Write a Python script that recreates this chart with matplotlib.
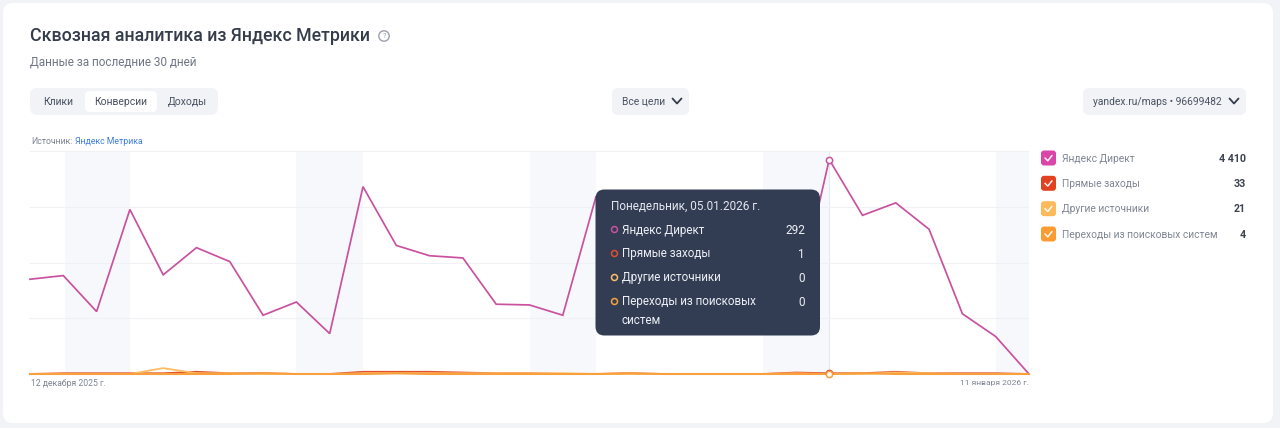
import matplotlib
matplotlib.use("Agg")
import matplotlib.pyplot as plt
from matplotlib.patches import FancyBboxPatch, Circle

plt.rcParams['font.family'] = ['Roboto', 'Noto Sans', 'DejaVu Sans']

# ---- data ----
days = list(range(31))
direct = [129, 134, 85, 224, 135, 172, 153, 80, 98, 55, 255, 175, 161, 158, 95, 94, 80, 242,
          200, 150, 130, 120, 121, 93, 292, 216, 233, 197, 82, 51, 0]
direct_in = [0, 1, 1, 1, 1, 3, 1, 1, 0, 0, 3, 3, 3, 2, 1, 1, 0, 0,
             1, 0, 0, 0, 0, 2, 1, 1, 3, 1, 1, 1, 0]
other = [0, 0, 0, 0, 8, 1, 1, 0, 0, 0, 1, 1, 1, 1, 1, 1, 1, 0,
         0, 0, 0, 0, 0, 1, 0, 0, 2, 1, 0, 0, 0]
search = [0, 0, 0, 0, 0, 0, 0, 1, 0, 0, 0, 1, 0, 0, 0, 0, 0, 0,
          1, 0, 0, 0, 0, 0, 0, 1, 0, 0, 0, 0, 0]
weekends = [(1.05, 3), (8, 10), (15, 17), (22, 24), (29, 30)]
hover_day = 24
grid_values = [0, 75.9, 151.8, 227.7, 303.6]

series_names = ["Яндекс Директ", "Прямые заходы", "Другие источники", "Переходы из поисковых систем"]
series_totals = ["4 410", "33", "21", "4"]
tooltip_values = ["292", "1", "0", "0"]
tabs = ["Клики", "Конверсии", "Доходы"]

LINE = ["#c9529f", "#e0502f", "#fdbd62", "#f9a03c"]
LINE_W = [1.25, 1.3, 1.3, 1.5]
BOX = ["#d946a8", "#e2421f", "#fdb95a", "#fb9c33"]
INK = "#353d4b"
GREY = "#7d8593"

W, H = 1280, 428
fig = plt.figure(figsize=(W / 100, H / 100), dpi=100, facecolor="#f1f3f7")


def px_axes(z):
    a = fig.add_axes([0, 0, 1, 1], zorder=z)
    a.set_xlim(0, W)
    a.set_ylim(H, 0)
    a.axis("off")
    a.patch.set_alpha(0)
    return a


def rrect(a, x0, y0, x1, y1, r, fc, z=1, ec="none"):
    a.add_patch(FancyBboxPatch((x0 + r, y0 + r), x1 - x0 - 2 * r, y1 - y0 - 2 * r,
                               boxstyle=f"round,pad={r},rounding_size={r}",
                               fc=fc, ec=ec, lw=0, zorder=z))


def txt(a, x, y, s, px, color=INK, ha="left", weight="normal", z=5):
    return a.text(x, y, s, fontsize=px * 0.72, color=color, ha=ha, va="center",
                  fontweight=weight, zorder=z)


def chevron(a, cx, cy, color=INK):
    a.plot([cx - 4.5, cx, cx + 4.5], [cy - 2.5, cy + 2.5, cy - 2.5], color=color, lw=1.3,
           solid_capstyle="round", solid_joinstyle="round")


bg = px_axes(0)
rrect(bg, 3, 3, 1273, 423, 10, "white")

# header
txt(bg, 30, 35.5, "Сквозная аналитика из Яндекс Метрики", 17.8, weight="medium")
bg.add_patch(Circle((384, 36), 5.2, fc="none", ec="#9aa1ad", lw=1))
txt(bg, 384, 36, "?", 7, color="#9aa1ad", ha="center")
txt(bg, 30, 61.5, "Данные за последние 30 дней", 11.7, color="#6f7684")

# tabs
rrect(bg, 30, 88, 218, 115, 7, "#f1f3f7")
rrect(bg, 85, 91, 157, 112, 5, "white", z=2)
for x, s in zip([43, 94, 168], tabs):
    txt(bg, x, 101.5, s, 10.4, color="#4a5261")

# selects
rrect(bg, 612, 88, 689, 115, 6, "#f1f3f7")
txt(bg, 622, 101.5, "Все цели", 10.3, color="#4a5261")
chevron(bg, 677, 101)
rrect(bg, 1083, 88, 1246, 115, 6, "#f1f3f7")
txt(bg, 1093, 101.5, "yandex.ru/maps • 96699482", 10.2, color="#4a5261")
chevron(bg, 1234, 101)

# source
txt(bg, 31, 141.5, "Источник:", 8.8, color=GREY)
txt(bg, 75, 141.5, "Яндекс Метрика", 8.8, color="#3f7fe0")

# chart
ax = fig.add_axes([30 / W, 1 - 374 / H, (1029 - 30) / W, (374 - 151) / H], zorder=1)
ax.patch.set_alpha(0)
ax.set_xlim(days[0], days[-1])
ax.set_ylim(0, grid_values[-1])
for s in ax.spines.values():
    s.set_visible(False)
ax.set_xticks([])
ax.set_yticks(grid_values)
ax.tick_params(left=False, labelleft=False)
ax.grid(axis="y", color="#eff1f5", lw=0.8, zorder=1)
for a0, a1 in weekends:
    ax.axvspan(a0, a1, fc="#f6f8fb", ec="none", zorder=0)
ax.axvline(hover_day, color="#e6e9ef", lw=0.8, zorder=1.5)
for i, vals in enumerate([direct, direct_in, other, search]):
    ax.plot(days, vals, color=LINE[i], lw=LINE_W[i], zorder=3 + i, clip_on=False,
            solid_joinstyle="miter")
ax.plot([hover_day], [direct[hover_day]], "o", ms=4.5, mfc="white", mec=LINE[0], mew=1.1,
        zorder=8, clip_on=False)
ax.plot([hover_day], [direct_in[hover_day]], "o", ms=4.5, mfc="white", mec=LINE[1], mew=1.1,
        zorder=8, clip_on=False)
ax.plot([hover_day], [search[hover_day]], "o", ms=4.5, mfc="white", mec=LINE[3], mew=1.1,
        zorder=9, clip_on=False)

top = px_axes(2)
txt(top, 31, 383.5, "12 декабря 2025 г.", 8.7, color=GREY)
txt(top, 1029, 383.5, "11 января 2026 г.", 8.5, color=GREY, ha="right")

# legend
for y, c, n, v in zip([158, 183.3, 208.7, 234], BOX, series_names, series_totals):
    rrect(top, 1041, y - 7.5, 1056, y + 7.5, 3, c)
    top.plot([1045, 1047.8, 1052], [y, y + 2.8, y - 2.5], color="white", lw=1.1, zorder=3,
             alpha=0.95, solid_capstyle="round", solid_joinstyle="round")
    txt(top, 1062, y + 0.5, n, 10.2, color="#7f8693")
    txt(top, 1246, y + 0.5, v, 10.6, ha="right", weight="bold", color="#3d4450")

# tooltip
rrect(top, 595.5, 189.5, 820, 335.5, 9, "#323d54", z=10)
txt(top, 611, 206, "Понедельник, 05.01.2026 г.", 11.7, color="#e4e7ee", z=11)
ys = [230, 254, 278, 302]
labels = [series_names[0], series_names[1], series_names[2], "Переходы из поисковых"]
for y, c, n, v in zip(ys, LINE, labels, tooltip_values):
    top.plot([613.5], [y - 1], "o", ms=4.3, mfc="#323d54", mec=c, mew=1.1, zorder=11)
    txt(top, 621.5, y, n, 11.6, color="#eef0f5", z=11)
    txt(top, 805, y, v, 11.8, color="#eef0f5", ha="right", z=11)
txt(top, 621.5, 320, "систем", 11.6, color="#eef0f5", z=11)

fig.savefig("out.png", dpi=100, facecolor=fig.get_facecolor())
